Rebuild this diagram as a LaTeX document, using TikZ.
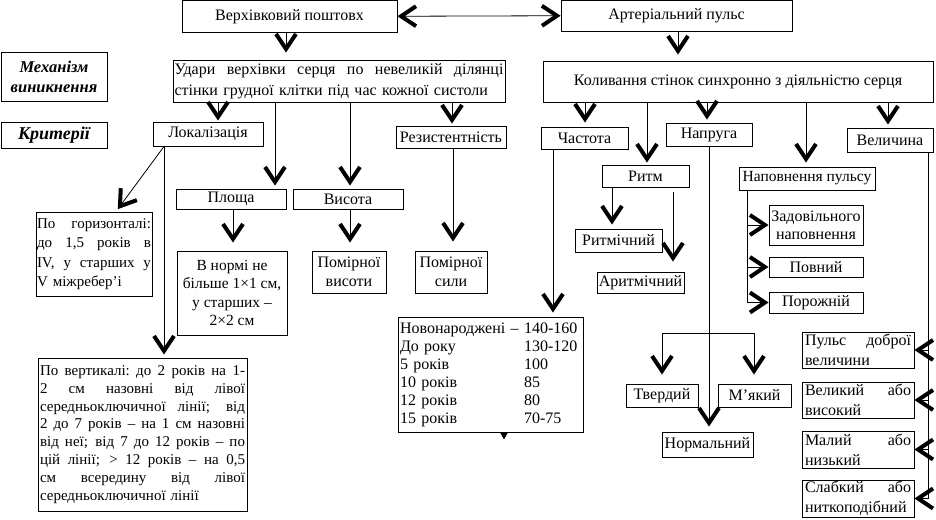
\documentclass[tikz,border=0pt]{standalone}
\usepackage{fontspec}
\setmainfont{Liberation Serif}
\usetikzlibrary{arrows.meta}
\newcommand\jl[2]{\leavevmode\hbox to #1{\spaceskip=0.25em plus 1fil minus 0.08em\relax\xspaceskip=\spaceskip #2}}
\newcommand\bx[7][]{\node[box,minimum width={(#5-#3)*1pt},minimum height={(#6-#4)*1pt},#1] (#2) at ({(#3+#5)/2},{(#4+#6)/2}) {#7};}
\begin{document}
\begin{tikzpicture}[x=1pt,y=-1pt,
 box/.style={draw,line width=0.9pt,inner sep=0pt,font=\fontsize{16}{18}\selectfont},
 arr/.style={line width=0.8pt,-{Straight Barb[length=15pt,width=20pt,line width=4pt]}},
 darr/.style={line width=0.8pt,{Straight Barb[length=15pt,width=20pt,line width=4pt]}-{Straight Barb[length=15pt,width=20pt,line width=4pt]}},
 ln/.style={line width=0.8pt},
 jbox/.style={align=left,font=\fontsize{16}{20}\selectfont}]
\useasboundingbox (0,0) rectangle (936,519);
% top
\bx{vp}{182}{0.5}{397}{32}{Верхівковий поштовх}
\bx{ap}{561}{0.5}{792}{31}{Артеріальний пульс}
\bx[font=\fontsize{16.5}{20}\selectfont\bfseries\itshape,align=center]{mech}{1}{52}{107}{101}{Механізм\\виникнення}
\bx[font=\fontsize{18}{20}\selectfont\bfseries\itshape]{krit}{1}{122}{107}{148}{Критерії}
\bx[text width=329pt,align=left,font=\fontsize{16}{21}\selectfont]{ud}{173}{60}{505}{102}{\jl{329pt}{Удари верхівки серця по невеликій ділянці}\\стінки грудної клітки під час кожної систоли}
\bx{kol}{543}{61}{933}{102}{Коливання стінок синхронно з діяльністю серця}
% level 2
\bx{lok}{153}{122}{263}{146}{Локалізація}
\bx{rez}{396}{126}{506}{148}{Резистентність}
\bx{chast}{541}{127}{628}{149}{Частота}
\bx{napr}{666}{123}{752}{146}{Напруга}
\bx{vel}{847}{128}{933}{152}{Величина}
\bx{rytm}{602}{165}{689}{187}{Ритм}
\bx[font=\fontsize{15.5}{18}\selectfont]{napov}{739}{167}{875}{190}{Наповнення пульсу}
\bx{pl}{176}{189}{286}{209}{Площа}
\bx{vys}{293}{189}{403}{209}{Висота}
% level 3
\bx[align=center,font=\fontsize{15.5}{18.3}\selectfont]{norm}{177}{251}{287}{335}{В нормі не\\більше 1×1 см,\\у старших –\\2×2 см}
\bx[align=center,font=\fontsize{16}{19}\selectfont]{pvys}{312}{251}{386}{293}{Помірної\\висоти}
\bx[text width=114pt,align=left,font=\fontsize{15}{19.4}\selectfont]{phor}{36}{212}{152}{296}{\jl{114pt}{По горизонталі:}\\\jl{114pt}{до 1,5 років в}\\\jl{114pt}{IV, у старших у}\\V міжребер’і}
\bx[align=center,font=\fontsize{16}{19}\selectfont]{psyl}{415}{251}{487}{293}{Помірної\\сили}
\bx{rytmich}{575}{229}{662}{252}{Ритмічний}
\bx{arytm}{597}{272}{684}{293}{Аритмічний}
\bx[align=center,font=\fontsize{16}{18.3}\selectfont]{zad}{769}{205}{863}{245}{Задовільного\\наповнення}
\bx{pov}{769}{257}{863}{277}{Повний}
\bx{por}{769}{292}{863}{313}{Порожній}
\bx[text width=181pt,align=left]{tbl}{398}{317}{583}{432}{\begin{tabular}{@{}p{124pt}@{}l@{}}Новонароджені – & 140-160\\ До року & 130-120\\ 5 років & 100\\ 10 років & 85\\ 12 років & 80\\ 15 років & 70-75\end{tabular}}
\bx[text width=205pt,align=left,font=\fontsize{15}{17.8}\selectfont]{pvert}{38}{358}{247}{511}{\jl{205pt}{По вертикалі: до 2 років на 1-}\\\jl{205pt}{2 см назовні від лівої}\\\jl{205pt}{середньоключичної лінії; від}\\\jl{205pt}{2 до 7 років – на 1 см назовні}\\\jl{205pt}{від неї; від 7 до 12 років – по}\\\jl{205pt}{цій лінії; > 12 років – на 0,5}\\\jl{205pt}{см всередину від лівої}\\середньоключичної лінії}
\bx{tv}{626}{384}{698}{407}{Твердий}
\bx{mk}{718}{384}{791}{407}{М’який}
\bx{norml}{662}{432}{753}{457}{Нормальний}
\bx[text width=106pt,jbox]{pdv}{802}{332}{914}{368}{\jl{106pt}{Пульс доброї}\\величини}
\bx[text width=106pt,jbox]{vv}{802}{382}{914}{418}{\jl{106pt}{Великий або}\\високий}
\bx[text width=106pt,jbox]{mn}{802}{431}{914}{468}{\jl{106pt}{Малий або}\\низький}
\bx[text width=106pt,jbox]{sl}{802}{480}{914}{517}{\jl{106pt}{Слабкий або}\\ниткоподібний}
% connectors
\draw[darr] (vp.east) -- (ap.west);
\draw[arr,shorten >=7pt] (vp.south -| 286,0) -- (ud.north -| 286,0);
\draw[arr,shorten >=6pt] (ap.south -| 678,0) -- (kol.north -| 678,0);
\draw[arr,shorten >=1pt] (ud.south -| 218,0) -- (lok.north -| 218,0);
\draw[arr,shorten >=3pt] (ud.south -| 275,0) -- (pl.north -| 275,0);
\draw[arr,shorten >=3pt] (ud.south -| 350,0) -- (vys.north -| 350,0);
\draw[arr,shorten >=2pt] (ud.south -| 452,0) -- (rez.north -| 452,0);
\draw[arr,shorten >=9pt] (rez.south -| 453,0) -- (psyl.north -| 453,0);
\draw[arr,shorten >=3pt] (lok.south -| 164,0) -- (phor.north -| 116,0);
\draw[arr,shorten >=3pt] (lok.south -| 164,0) -- (pvert.north -| 164,0);
\draw[arr,shorten >=8pt] (pl.south -| 233,0) -- (norm.north -| 233,0);
\draw[arr,shorten >=8pt] (vys.south -| 350,0) -- (pvys.north -| 350,0);
\draw[arr,shorten >=4pt] (kol.south -| 585,0) -- (chast.north -| 585,0);
\draw[arr,shorten >=2pt] (kol.south -| 647,0) -- (rytm.north -| 647,0);
\draw[arr,shorten >=3pt] (kol.south -| 707,0) -- (napr.north -| 707,0);
\draw[arr,shorten >=4pt] (kol.south -| 806,0) -- (napov.north -| 806,0);
\draw[arr,shorten >=3pt] (kol.south -| 888,0) -- (vel.north -| 888,0);
\draw[arr,shorten >=4pt] (chast.south -| 553,0) -- (tbl.north -| 553,0);
\draw[arr,shorten >=4pt] (rytm.south -| 612,0) -- (rytmich.north -| 612,0);
\draw[arr,shorten <=5pt,shorten >=10pt] (rytm.south -| 673,0) -- (arytm.north -| 673,0);
\draw[arr,shorten >=5pt] (napr.south -| 709,0) -- (norml.north -| 709,0);
\coordinate (bl) at (662,333);
\coordinate (bR) at (754,333);
\draw[ln] (bl) -- (bR);
\draw[arr,shorten >=9pt] (bl) -- (tv.north -| bl);
\draw[arr,shorten >=9pt] (bR) -- (mk.north -| bR);
\coordinate (nb) at (napov.south -| 747,0);
\draw[arr] (nb) |- (por.west);
\draw[arr] (zad.west -| nb) -- (zad.west);
\draw[arr] (pov.west -| nb) -- (pov.west);
\coordinate (vb) at (vel.south -| 928,0);
\draw[arr] (vb) |- (sl.east);
\draw[arr] (pdv.east -| vb) -- (pdv.east);
\draw[arr] (vv.east -| vb) -- (vv.east);
\draw[arr] (mn.east -| vb) -- (mn.east);
\fill (tbl.south -| 500,0) -- ++(8,0) -- ++(-4,7) -- cycle;
\end{tikzpicture}
\end{document}
